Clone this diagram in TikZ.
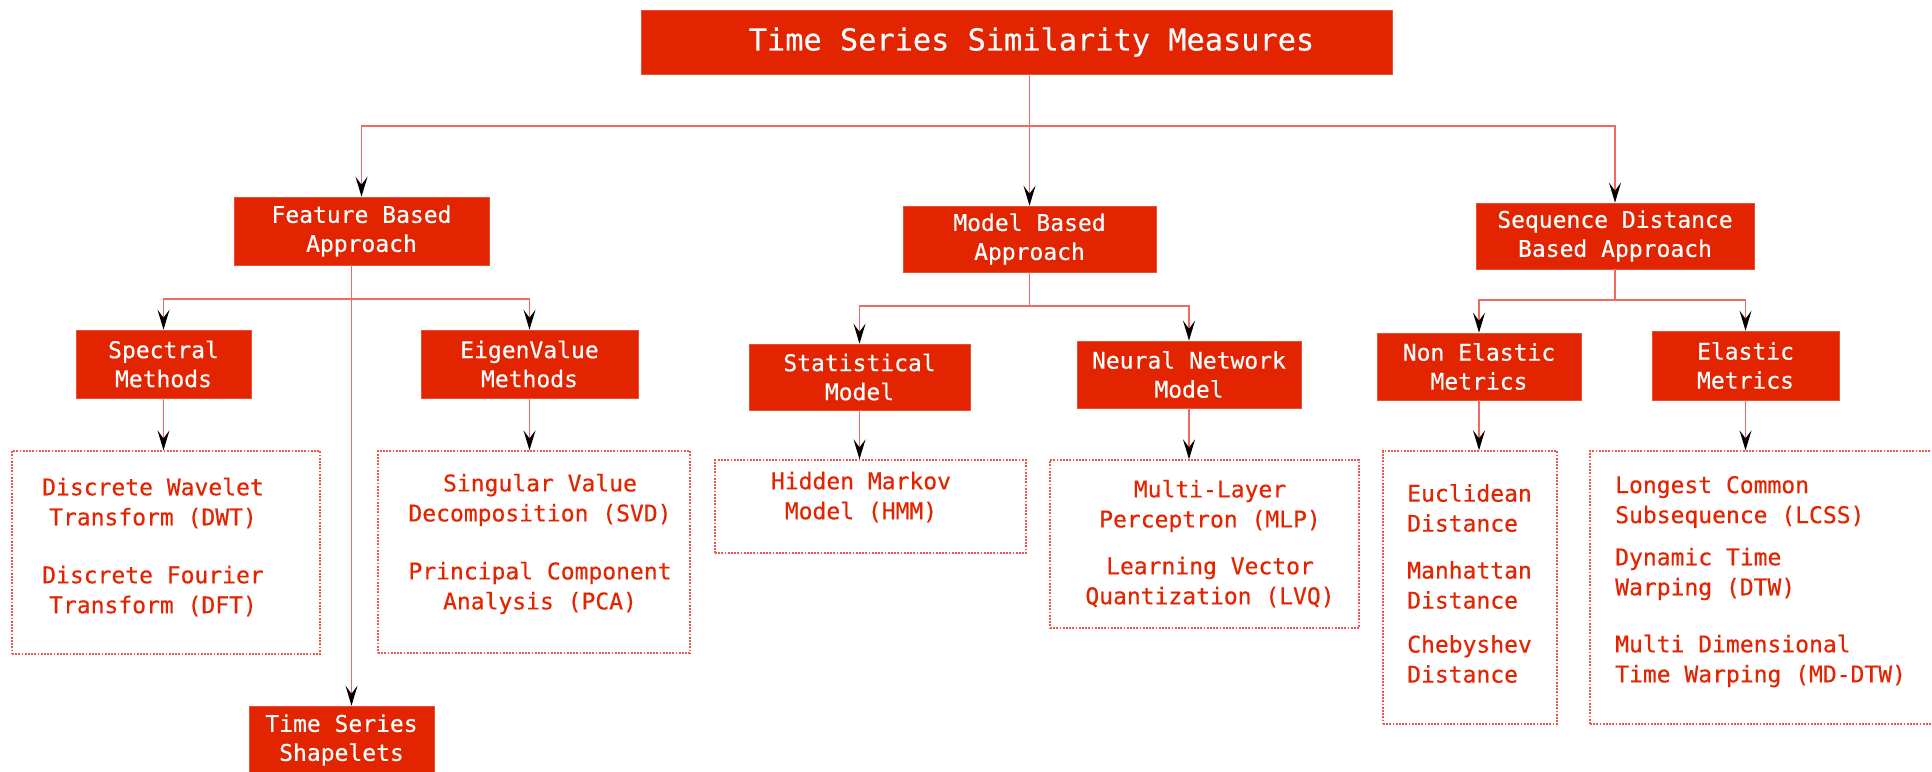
\documentclass[tikz,border=0pt]{standalone}
\usepackage{fontspec}
\newfontfamily\dvm[FakeBold=0.4]{DejaVu Sans Mono}
\usetikzlibrary{arrows.meta,calc}
\definecolor{boxred}{HTML}{E32400}
\definecolor{linered}{HTML}{F06A62}
\definecolor{dotred}{HTML}{F0574C}
\tikzset{
  redbox/.style={fill=boxred, draw=boxred!80!white, line width=0.6pt, text=white, inner sep=0pt, align=center,
     font=\dvm\fontsize{23}{29}\selectfont},
  dotbox/.style={draw=dotred, dash pattern=on 1.8pt off 1.4pt, line width=1.3pt},
  itm/.style={text=boxred, inner sep=0pt, align=center, font=\dvm\fontsize{23}{30}\selectfont},
  itml/.style={itm, align=left, anchor=west},
  ln/.style={draw=linered, line width=1.5pt},
  arr/.style={ln, -{Stealth[length=20pt,width=12pt,inset=8pt,black]}},
}
\begin{document}
\begin{tikzpicture}[x=1pt,y=-1pt]
\useasboundingbox (0,0) rectangle (1932,771);
\clip (0,0) rectangle (1932,771);
\fill[white] (0,0) rectangle (1932,771);

% level 0
\node[redbox, minimum width=751pt, minimum height=64pt, font=\dvm\fontsize{30.3}{36}\selectfont] (title) at (1016.5,42) {\hspace*{30pt}Time Series Similarity Measures};

% level 1
\node[redbox, minimum width=255pt, minimum height=68pt] (fb) at (361.5,231) {Feature Based\\Approach};
\node[redbox, minimum width=253pt, minimum height=66pt] (mb) at (1029.5,239) {Model Based\\Approach};
\node[redbox, minimum width=278pt, minimum height=66pt] (sd) at (1615,236) {Sequence Distance\\Based Approach};

% level 2
\node[redbox, minimum width=175pt, minimum height=68pt] (spec) at (163.5,364) {Spectral\\Methods};
\node[redbox, minimum width=217pt, minimum height=68pt] (eig) at (529.5,364) {EigenValue\\Methods};
\node[redbox, minimum width=185pt, minimum height=68pt] (shp) at (341.5,740) {Time Series\\Shapelets};
\node[redbox, minimum width=221pt, minimum height=66pt] (stat) at (859.5,377) {Statistical\\Model};
\node[redbox, minimum width=224pt, minimum height=67pt] (neur) at (1189,374.5) {Neural Network\\Model};
\node[redbox, minimum width=204pt, minimum height=67pt] (ne) at (1479,366.5) {Non Elastic\\Metrics};
\node[redbox, minimum width=187pt, minimum height=69pt] (el) at (1745.5,365.5) {Elastic\\Metrics};

% dotted boxes
\node[dotbox, minimum width=308pt, minimum height=203pt] (dwt) at (166,552.5) {};
\node[dotbox, minimum width=312pt, minimum height=202pt] (svd) at (534,552) {};
\node[dotbox, minimum width=311pt, minimum height=93pt] (hmm) at (870.5,506.5) {};
\node[dotbox, minimum width=309pt, minimum height=168pt] (mlp) at (1204.5,544) {};
\node[dotbox, minimum width=174pt, minimum height=273pt] (euc) at (1470,587.5) {};
\node[dotbox, minimum width=360pt, minimum height=273pt] (lcs) at (1770,587.5) {};

% items
\node[itm] (dwt1) at (153,503) {Discrete Wavelet\\Transform (DWT)};
\node[itm] (dwt2) at (153,591) {Discrete Fourier\\Transform (DFT)};
\node[itm] (svd1) at (540,500) {Singular Value\\Decomposition (SVD)};
\node[itm] (svd2) at (540,588) {Principal Component\\Analysis (PCA)};
\node[itm] (hmm1) at (861,497) {Hidden Markov\\Model (HMM)};
\node[itm] (mlp1) at (1210,506) {Multi-Layer\\Perceptron (MLP)};
\node[itm] (mlp2) at (1210,582) {Learning Vector\\Quantization (LVQ)};
\node[itml] (euc1) at (1407,508) {Euclidean\\Distance};
\node[itml] (euc2) at (1407,585) {Manhattan\\Distance};
\node[itml] (euc3) at (1407,659) {Chebyshev\\Distance};
\node[itml] (lcs1) at (1615,502) {Longest Common\\Subsequence (LCSS)};
\node[itml] (lcs2) at (1615,574) {Dynamic Time\\Warping (DTW)};
\node[itml] (lcs3) at (1615,661) {Multi Dimensional\\Time Warping (MD-DTW)};

% connectors level 0 -> 1
\coordinate (b0) at (1029.5,126);
\draw[ln] (mb.north |- title.south) -- (b0);
\draw[arr] (b0) -| (fb.north);
\draw[arr] (b0) -| (sd.north);
\draw[arr] (b0) -- (mb.north);

% feature based
\coordinate (b1) at (352,299);
\draw[arr] ([xshift=-10pt]fb.south) -- ([xshift=-10pt]fb.south |- shp.north);
\draw[arr] (b1) -| (spec.north);
\draw[arr] (b1) -| (eig.north);
\draw[arr] (spec.south) -- (spec.south |- dwt.north);
\draw[arr] (eig.south) -- (eig.south |- svd.north);

% model based
\coordinate (b2) at (1029.5,306);
\draw[ln] (mb.south) -- (b2);
\draw[arr] (b2) -| (stat.north);
\draw[arr] (b2) -| (neur.north);
\draw[arr] (stat.south) -- (stat.south |- hmm.north);
\draw[arr] (neur.south) -- (neur.south |- mlp.north);

% sequence distance
\coordinate (b3) at (1615,300);
\draw[ln] (sd.south) -- (b3);
\draw[arr] (b3) -| (ne.north);
\draw[arr] (b3) -| (el.north);
\draw[arr] (ne.south) -- (ne.south |- euc.north);
\draw[arr] (el.south) -- (el.south |- lcs.north);
\end{tikzpicture}
\end{document}
